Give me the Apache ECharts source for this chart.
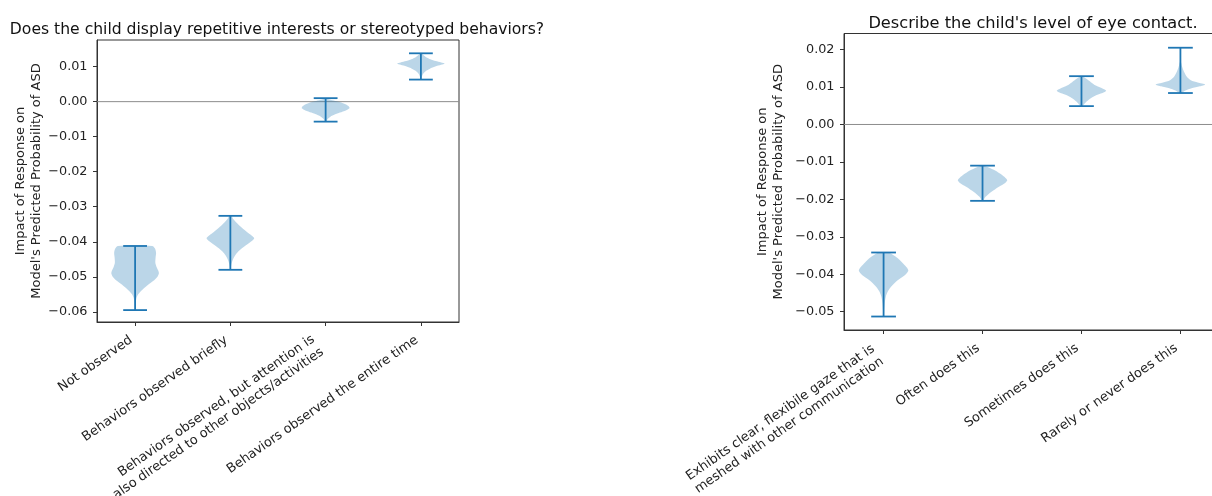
<!DOCTYPE html>
<html>
<head>
<meta charset="utf-8">
<script src="https://cdn.jsdelivr.net/npm/echarts@6/dist/echarts.min.js"></script>
<style>html,body{margin:0;padding:0;background:#fff;}#c{width:1212px;height:496px;}</style>
</head>
<body>
<div id="c"></div>
<script>
// ---------- data ----------
const leftTitle = "Does the child display repetitive interests or stereotyped behaviors?";
const rightTitle = "Describe the child's level of eye contact.";
const yName = "Impact of Response on\nModel's Predicted Probability of ASD";

const leftCategories = [
  "Not observed",
  "Behaviors observed briefly",
  "Behaviors observed, but attention is\nalso directed to other objects/activities",
  "Behaviors observed the entire time"
];
const leftMins = [-0.0595, -0.0480, -0.0057, 0.0063];
const leftMaxs = [-0.0412, -0.0326, 0.0010, 0.0138];
// violin outlines: [value, relative half-width]
const leftProfiles = [
  [[-0.0412,0.72],[-0.0420,0.84],[-0.0432,0.88],[-0.0445,0.86],[-0.0460,0.85],[-0.0472,0.9],[-0.0482,0.97],[-0.0490,1.0],[-0.0500,0.94],[-0.0510,0.8],[-0.0520,0.6],[-0.0530,0.42],[-0.0540,0.26],[-0.0550,0.13],[-0.0560,0.06],[-0.0575,0.025],[-0.0595,0.01]],
  [[-0.0326,0.04],[-0.0335,0.12],[-0.0345,0.25],[-0.0355,0.4],[-0.0365,0.57],[-0.0375,0.75],[-0.0384,0.93],[-0.0390,1.0],[-0.0398,0.9],[-0.0408,0.7],[-0.0418,0.5],[-0.0428,0.33],[-0.0440,0.19],[-0.0452,0.1],[-0.0465,0.04],[-0.0480,0.01]],
  [[0.0010,0.02],[0.0006,0.15],[0.0002,0.4],[-0.0003,0.68],[-0.0009,0.88],[-0.0015,0.99],[-0.0019,1.0],[-0.0025,0.85],[-0.0031,0.6],[-0.0037,0.38],[-0.0043,0.2],[-0.0050,0.08],[-0.0057,0.02]],
  [[0.0138,0.03],[0.0133,0.1],[0.0127,0.22],[0.0121,0.4],[0.0116,0.62],[0.0112,0.85],[0.0109,1.0],[0.0105,0.85],[0.0100,0.6],[0.0094,0.38],[0.0087,0.2],[0.0079,0.09],[0.0071,0.04],[0.0063,0.01]]
];
const leftYTicks = [-0.06, -0.05, -0.04, -0.03, -0.02, -0.01, 0.00, 0.01];

const rightCategories = [
  "Exhibits clear, flexibile gaze that is\nmeshed with other communication",
  "Often does this",
  "Sometimes does this",
  "Rarely or never does this"
];
const rightMins = [-0.0513, -0.0204, 0.0049, 0.0084];
const rightMaxs = [-0.0342, -0.0110, 0.0129, 0.0205];
const rightProfiles = [
  [[-0.0342,0.2],[-0.0350,0.42],[-0.0360,0.62],[-0.0372,0.8],[-0.0383,0.95],[-0.0391,1.0],[-0.0400,0.9],[-0.0410,0.7],[-0.0420,0.5],[-0.0432,0.32],[-0.0445,0.18],[-0.0460,0.09],[-0.0478,0.045],[-0.0495,0.025],[-0.0513,0.01]],
  [[-0.0110,0.06],[-0.0116,0.3],[-0.0124,0.55],[-0.0133,0.75],[-0.0142,0.92],[-0.0149,1.0],[-0.0157,0.9],[-0.0166,0.68],[-0.0176,0.45],[-0.0186,0.25],[-0.0195,0.1],[-0.0204,0.02]],
  [[0.0129,0.04],[0.0122,0.2],[0.0113,0.38],[0.0104,0.58],[0.0096,0.85],[0.0090,1.0],[0.0084,0.85],[0.0077,0.55],[0.0068,0.33],[0.0059,0.17],[0.0049,0.03]],
  [[0.0205,0.0],[0.0175,0.0],[0.0165,0.03],[0.0152,0.08],[0.0140,0.15],[0.0128,0.25],[0.0118,0.42],[0.0112,0.7],[0.0107,1.0],[0.0102,0.78],[0.0097,0.45],[0.0091,0.2],[0.0084,0.04]]
];
const rightYTicks = [-0.05, -0.04, -0.03, -0.02, -0.01, 0.00, 0.01, 0.02];

const xPositions = [1, 2, 3, 4];

// ---------- styles ----------
const FONT = "DejaVu Sans";
const TXT = "#222";
const LINE = "#1f77b4";
const BODY = "rgba(31,119,180,0.30)";

function fmtY(v){ return v.toFixed(2).replace('-', '\u2212'); }

function violinRender(profiles){
  return function(params, api){
    const i = params.dataIndex;
    const pos = api.value(0);
    const lo = api.value(1), hi = api.value(2);
    const prof = profiles[i];
    const pts = [];
    for (let k = 0; k < prof.length; k++) pts.push(api.coord([pos + 0.25*prof[k][1], prof[k][0]]));
    for (let k = prof.length-1; k >= 0; k--) pts.push(api.coord([pos - 0.25*prof[k][1], prof[k][0]]));
    const pTop = api.coord([pos, hi]), pBot = api.coord([pos, lo]);
    const cl = api.coord([pos - 0.125, hi]), cr = api.coord([pos + 0.125, hi]);
    const bl = api.coord([pos - 0.125, lo]), br = api.coord([pos + 0.125, lo]);
    const ls = {stroke: LINE, lineWidth: 1.8};
    return {type:'group', children:[
      {type:'polygon', shape:{points:pts, smooth:0.25}, style:{fill:BODY, stroke:null}},
      {type:'line', shape:{x1:pTop[0],y1:pTop[1],x2:pBot[0],y2:pBot[1]}, style:ls},
      {type:'line', shape:{x1:cl[0],y1:cl[1],x2:cr[0],y2:cr[1]}, style:ls},
      {type:'line', shape:{x1:bl[0],y1:bl[1],x2:br[0],y2:br[1]}, style:ls}
    ]};
  };
}

// main x axis: line, ticks, one-line labels; extra x axis: two-line labels only
function xAxisMain(idx, cats){
  const single = xPositions.filter(p => cats[p-1].indexOf('\n') < 0);
  return {
    gridIndex: idx, type:'value', min:0.6, max:4.4, position:'bottom',
    axisLine:{show:true, onZero:false, lineStyle:{color:'#333', width:1}},
    axisTick:{show:true, customValues:xPositions, length:4, lineStyle:{color:'#333'}},
    axisLabel:{show:true, customValues:single, rotate:35, margin:14, padding:[0,5,0,0],
      fontFamily:FONT, fontSize:13, color:TXT, lineHeight:15.5,
      formatter: v => cats[Math.round(v)-1] || ''},
    splitLine:{show:false}
  };
}
function xAxisMulti(idx, cats, margin, padRight){
  const multi = xPositions.filter(p => cats[p-1].indexOf('\n') >= 0);
  return {
    gridIndex: idx, type:'value', min:0.6, max:4.4, position:'bottom', offset:0,
    axisLine:{show:false, onZero:false}, axisTick:{show:false},
    axisLabel:{show:true, customValues:multi, rotate:35, margin:margin, padding:[0,padRight,0,0],
      fontFamily:FONT, fontSize:13, color:TXT, lineHeight:15.5,
      formatter: v => cats[Math.round(v)-1] || ''},
    splitLine:{show:false}
  };
}
function yAxisCfg(idx, mn, mx, ticks, gap){
  return {
    gridIndex: idx, type:'value', min:mn, max:mx,
    name: yName, nameLocation:'middle', nameGap:gap, nameRotate:90,
    nameTextStyle:{fontFamily:FONT, fontSize:13, color:TXT, lineHeight:15.5, align:'center'},
    axisLine:{show:true, onZero:false, lineStyle:{color:'#333', width:1}},
    axisTick:{show:true, customValues:ticks, length:4, lineStyle:{color:'#333'}},
    axisLabel:{show:true, customValues:ticks, margin:9.5, fontFamily:FONT, fontSize:12.8, color:TXT, formatter: fmtY},
    splitLine:{show:false}
  };
}

const chart = echarts.init(document.getElementById('c'), null, {renderer:'canvas'});
chart.setOption({
  backgroundColor:'#fff',
  animation:false,
  title:[
    {text:leftTitle, left:272, top:17, textAlign:'center', textStyle:{fontFamily:FONT, fontSize:15.6, fontWeight:'normal', color:'#111'}},
    {text:rightTitle, left:1028, top:11, textAlign:'center', textStyle:{fontFamily:FONT, fontSize:16.2, fontWeight:'normal', color:'#111'}}
  ],
  grid:[
    {left:97, top:40, width:362, height:282, show:true, borderColor:'#333', borderWidth:1, backgroundColor:'transparent', outerBoundsMode:'none', containLabel:false},
    {left:844, top:33.5, width:376, height:296.5, show:true, borderColor:'#333', borderWidth:1, backgroundColor:'transparent', outerBoundsMode:'none', containLabel:false}
  ],
  xAxis:[ xAxisMain(0, leftCategories), xAxisMulti(0, leftCategories, 17, 9.5), xAxisMain(1, rightCategories), xAxisMulti(1, rightCategories, 20, 7) ],
  yAxis:[ yAxisCfg(0, -0.0629, 0.0176, leftYTicks, 53), yAxisCfg(1, -0.0549, 0.0243, rightYTicks, 58) ],
  series:[
    {type:'line', xAxisIndex:0, yAxisIndex:0, data:[[0.6,0],[4.4,0]], symbol:'none', lineStyle:{color:'#8c8c8c', width:1}, silent:true, z:1},
    {type:'line', xAxisIndex:2, yAxisIndex:1, data:[[0.6,0],[4.4,0]], symbol:'none', lineStyle:{color:'#8c8c8c', width:1}, silent:true, z:1},
    {type:'custom', xAxisIndex:0, yAxisIndex:0, z:2,
      data: xPositions.map((p,i)=>[p, leftMins[i], leftMaxs[i]]),
      encode:{x:0, y:[1,2]}, renderItem: violinRender(leftProfiles)},
    {type:'custom', xAxisIndex:2, yAxisIndex:1, z:2,
      data: xPositions.map((p,i)=>[p, rightMins[i], rightMaxs[i]]),
      encode:{x:0, y:[1,2]}, renderItem: violinRender(rightProfiles)}
  ]
});
</script>
</body>
</html>
